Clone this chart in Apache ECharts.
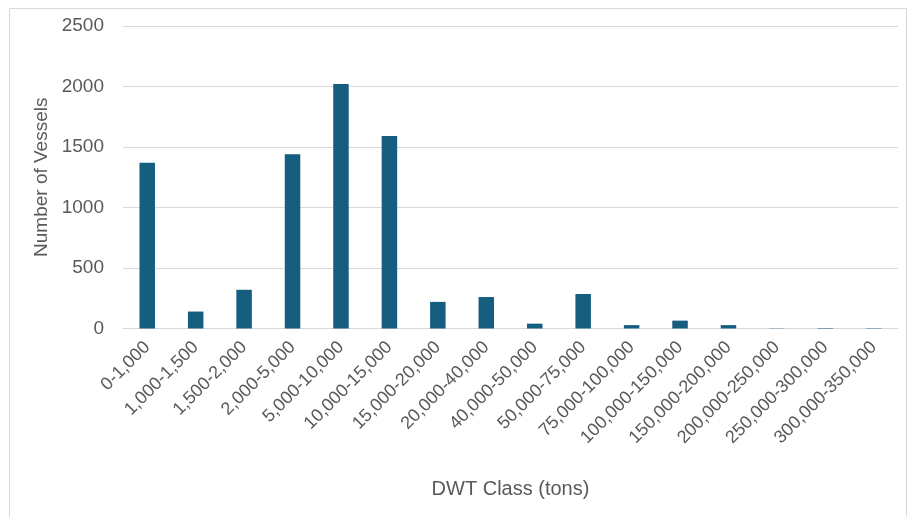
<!DOCTYPE html>
<html>
<head>
<meta charset="utf-8">
<script src="https://cdn.jsdelivr.net/npm/echarts@6/dist/echarts.min.js"></script>
<style>html,body{margin:0;padding:0;background:#fff;}#c{width:907px;height:517px;}</style>
</head>
<body>
<div id="c"></div>
<script>
const categories = ["0-1,000","1,000-1,500","1,500-2,000","2,000-5,000","5,000-10,000","10,000-15,000","15,000-20,000","20,000-40,000","40,000-50,000","50,000-75,000","75,000-100,000","100,000-150,000","150,000-200,000","200,000-250,000","250,000-300,000","300,000-350,000"];
const vessels = [1370, 140, 320, 1440, 2020, 1590, 220, 260, 40, 285, 28, 65, 28, 2, 4, 3];
const yTicks = [0, 500, 1000, 1500, 2000, 2500];

const chart = echarts.init(document.getElementById('c'));
chart.setOption({
  animation: false,
  textStyle: { fontFamily: 'Liberation Sans, Arial, sans-serif' },
  graphic: [{
    type: 'rect', left: 7, top: 6, shape: { width: 897, height: 530 },
    style: { fill: 'none', stroke: '#d9d9d9', lineWidth: 1 }, silent: true
  }],
  grid: { left: 123, right: 9, top: 26, bottom: 188.5, containLabel: false },
  xAxis: {
    type: 'category', data: categories,
    name: 'DWT Class (tons)', nameLocation: 'middle', nameGap: 151,
    nameTextStyle: { color: '#595959', fontSize: 20 },
    axisLine: { lineStyle: { color: '#d9d9d9', width: 1 } },
    axisTick: { show: false },
    axisLabel: { rotate: 45, color: '#595959', fontSize: 18, margin: 16, interval: 0 }
  },
  yAxis: {
    type: 'value', min: yTicks[0], max: yTicks[yTicks.length - 1], interval: 500,
    name: 'Number of Vessels', nameLocation: 'middle', nameGap: 71,
    nameTextStyle: { color: '#595959', fontSize: 19 },
    axisLine: { show: false }, axisTick: { show: false },
    axisLabel: { color: '#595959', fontSize: 19, margin: 19, formatter: v => String(v) },
    splitLine: { lineStyle: { color: '#d9d9d9', width: 1 } }
  },
  series: [{
    type: 'bar', data: vessels, barWidth: '32%',
    itemStyle: { color: '#165e80' }
  }]
});
</script>
</body>
</html>
